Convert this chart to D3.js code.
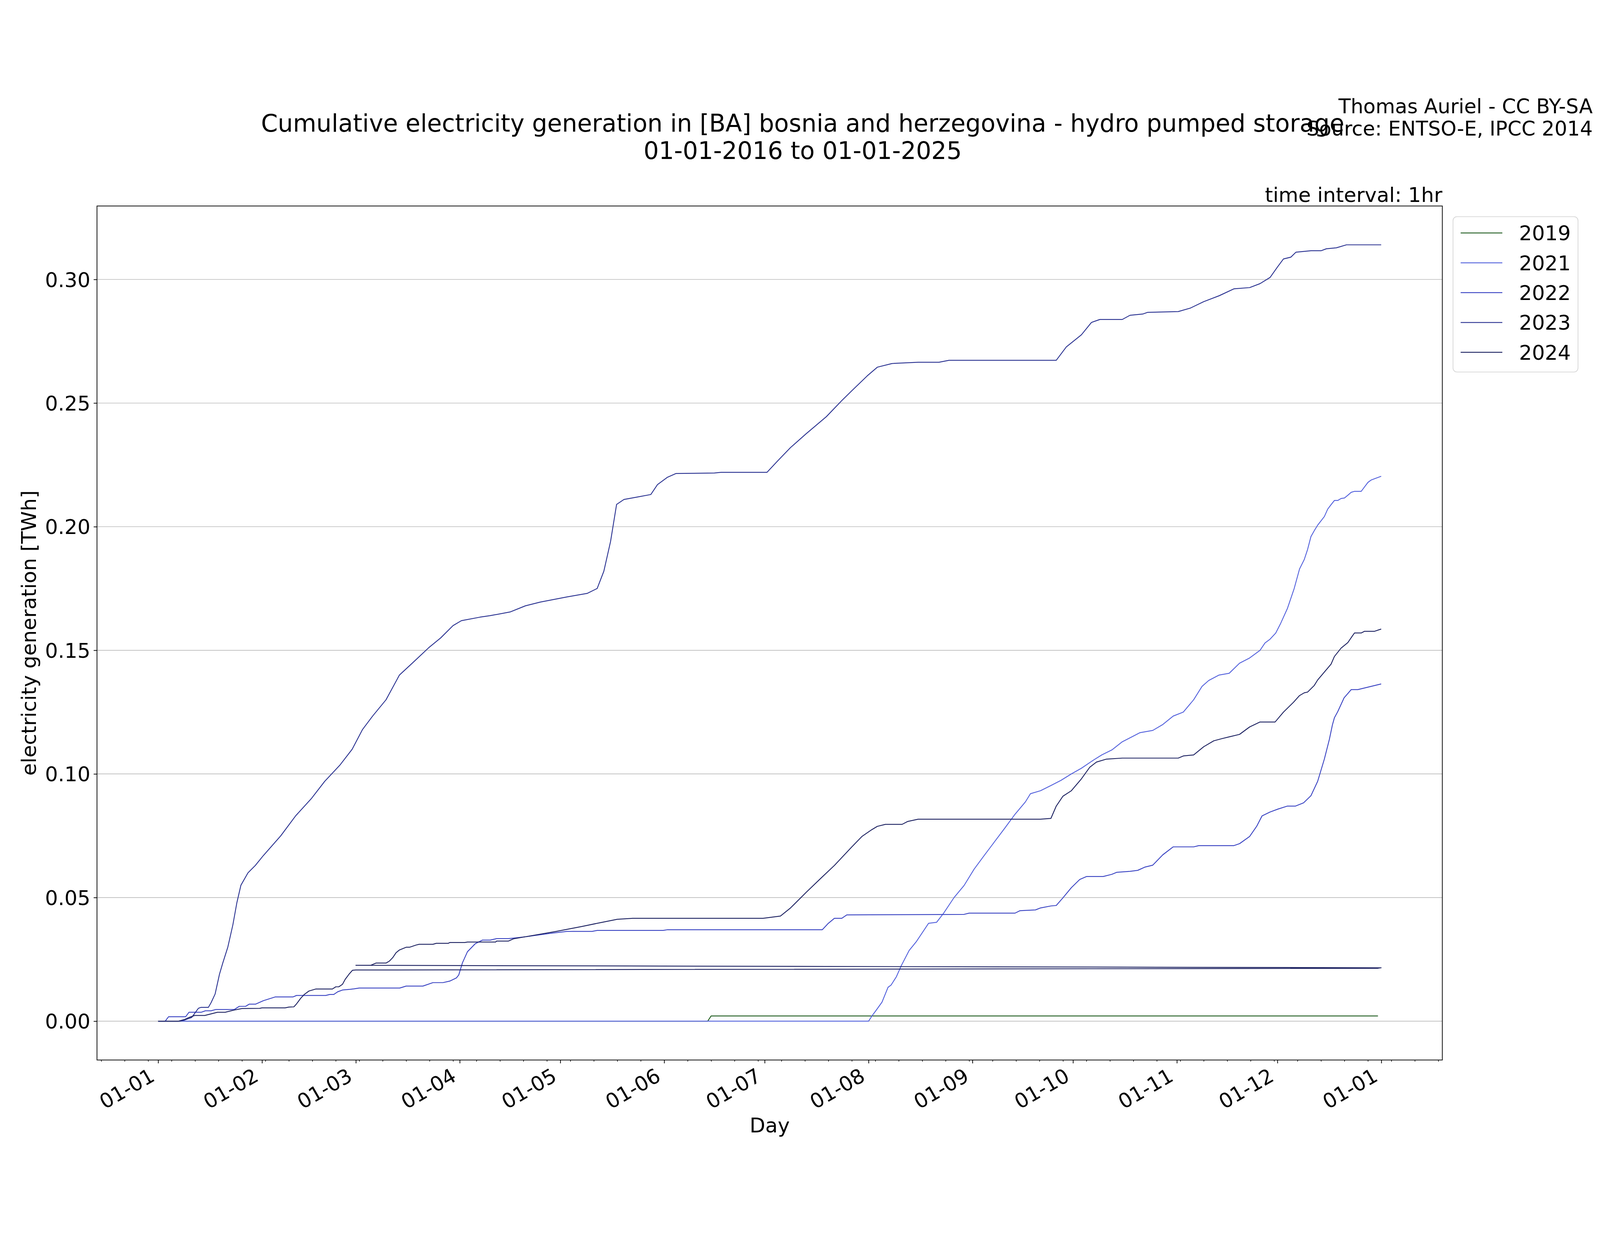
<!DOCTYPE html>
<html>
<head>
<meta charset="utf-8">
<script src="https://cdn.jsdelivr.net/npm/d3@7"></script>
<style>
    html, body { margin: 0; padding: 0; width: 100%; height: 100%; overflow: hidden; background: white; }
    svg { display: block; width: 100vw; height: 100vh; }
    text { font-family: "DejaVu Sans", sans-serif; }
</style>
</head>
<body>
<svg id="chart" viewBox="0 0 4800 3200" preserveAspectRatio="xMidYMid meet"></svg>
<script>

// legend entries (years) and their colours
let years = ["2019", "2021", "2022", "2023", "2024"];
let lineColors = ["#1d5a1d", "#5260dc", "#3842c2", "#283090", "#1b2060"];

// cumulative generation, TWh, as [day of year (0 = 1 Jan), value]
let gen2019 = [[0, 0], [164, 0], [165, 0.0021], [364.0, 0.0021]];

let gen2021 = [[0, 0], [212, 0], [213.1, 0.0023], [214.2, 0.0043], [216, 0.0077], [217.8, 0.0137],
    [218.7, 0.0146], [220.3, 0.018], [221.7, 0.0223], [224.1, 0.0286], [226.2, 0.0321], [229.9, 0.0396],
    [232.3, 0.040], [234.4, 0.0437], [237.5, 0.050], [240.5, 0.0549], [243.5, 0.0615], [246.6, 0.0672],
    [249.6, 0.0726], [252.6, 0.078], [255.7, 0.0837], [258.8, 0.0887], [260.3, 0.092], [263.3, 0.0932],
    [266.4, 0.0953], [269.4, 0.0974], [272.5, 0.100], [275.5, 0.1023], [279.1, 0.1056], [281.6, 0.1077],
    [284.6, 0.1097], [287.7, 0.113], [290.7, 0.1151], [293, 0.1167], [296.8, 0.1176], [299.8, 0.120],
    [302.9, 0.1234], [305.9, 0.125], [309, 0.130], [311.5, 0.1354], [313.5, 0.1378], [316.6, 0.140],
    [319.6, 0.1407], [322.7, 0.1448], [325.7, 0.1469], [328.8, 0.150], [330.3, 0.153], [331.8, 0.1545],
    [333.5, 0.157], [335, 0.161], [337, 0.167], [339, 0.175], [340.6, 0.1829], [342, 0.1867],
    [343, 0.1908], [344, 0.196], [345, 0.1984], [346, 0.2006], [348, 0.2041], [349, 0.2071],
    [350, 0.2089], [351, 0.2106], [352, 0.2106], [353, 0.2114], [354, 0.2116], [355, 0.2127],
    [356, 0.2139], [357, 0.2143], [359, 0.2143], [360, 0.2161], [361, 0.2179], [362, 0.2189],
    [363, 0.2194], [364.96, 0.2204]];

let gen2022 = [[0, 0], [2.1, 0], [3.1, 0.0018], [8.2, 0.0018], [9.2, 0.0036], [12.8, 0.0036],
    [14.1, 0.0042], [15.8, 0.0042], [17.1, 0.0047], [22.7, 0.0047], [24.2, 0.0060], [26.1, 0.0060],
    [27.2, 0.0069], [29.1, 0.0069], [31.4, 0.0083], [34.9, 0.0098], [40.2, 0.0098], [41.3, 0.0104],
    [50, 0.0104], [51.2, 0.0108], [52.4, 0.0108], [53.6, 0.0119], [55, 0.0126], [57.3, 0.0129],
    [58.5, 0.0131], [60, 0.0134], [72.1, 0.0134], [74, 0.0142], [79, 0.0142], [82, 0.0156],
    [85, 0.0156], [87, 0.0162], [89, 0.0175], [89.7, 0.0187], [90.8, 0.0236], [92.3, 0.0281],
    [94.6, 0.0313], [96.8, 0.0328], [99.1, 0.0328], [101, 0.0334], [104.5, 0.0334], [106, 0.0336],
    [110, 0.0342], [117, 0.0355], [122, 0.0363], [129.5, 0.0363], [131, 0.0367], [150.7, 0.0367],
    [152, 0.037], [198.2, 0.037], [200, 0.0396], [201.8, 0.0416], [204, 0.0416], [205.5, 0.0430],
    [240.5, 0.0432], [242, 0.0437], [255.7, 0.0437], [257.2, 0.0447], [261.8, 0.0450], [263.3, 0.0458],
    [266.4, 0.0466], [268, 0.0468], [270, 0.0499], [272.5, 0.054], [275, 0.0573], [277, 0.0585],
    [282, 0.0585], [284.6, 0.0594], [286, 0.0602], [290, 0.0606], [292.3, 0.061], [294.4, 0.0623],
    [296.8, 0.0631], [299.8, 0.0673], [302.9, 0.0705], [309, 0.0705], [310.5, 0.071], [321, 0.071],
    [322.7, 0.0718], [325.7, 0.0747], [327.8, 0.0788], [329.4, 0.083], [331.8, 0.0846], [334.2, 0.0858],
    [337, 0.087], [339.4, 0.087], [341.8, 0.0883], [344, 0.0912], [346, 0.097], [348, 0.106],
    [349.5, 0.114], [350.4, 0.1198], [351, 0.1227], [352, 0.1252], [353.9, 0.1308], [355, 0.1325],
    [356, 0.1341], [358, 0.1341], [361, 0.1351], [364.96, 0.1364]];

let gen2023 = [[0, 0], [6.4, 0], [8, 0.0005], [10, 0.0015], [12, 0.0052], [12.8, 0.0056], [15, 0.0056],
    [15.8, 0.0075], [17, 0.011], [18.3, 0.019], [19.3, 0.0236], [20.8, 0.030], [22.3, 0.039],
    [23.5, 0.048], [24.7, 0.055], [26.8, 0.060], [29, 0.063], [31.4, 0.067], [36.6, 0.075], [41, 0.083],
    [45.7, 0.090], [49.7, 0.097], [54.2, 0.1035], [57.9, 0.110], [61, 0.118], [64, 0.1234], [68, 0.130],
    [72, 0.140], [76, 0.145], [80.7, 0.151], [84.3, 0.155], [88, 0.160], [90.5, 0.162], [96, 0.1634],
    [99, 0.164], [105, 0.1655], [109.6, 0.168], [114, 0.1695], [122, 0.1716], [128, 0.173], [131, 0.175],
    [133, 0.182], [135, 0.194], [136.8, 0.209], [139, 0.211], [143, 0.212], [147, 0.213], [149, 0.217],
    [152, 0.220], [154.5, 0.2215], [166, 0.2217], [168, 0.222], [181.7, 0.222], [184.8, 0.2265],
    [188.7, 0.232], [193.3, 0.2375], [199.4, 0.2445], [204, 0.251], [207, 0.255], [211.6, 0.261],
    [214.6, 0.2645], [219, 0.266], [226.8, 0.2665], [233, 0.2665], [236, 0.2673], [268, 0.2673],
    [271, 0.2727], [275.5, 0.2776], [278.5, 0.2826], [281, 0.2838], [287.7, 0.2838], [290, 0.2855],
    [293.8, 0.286], [295.3, 0.2867], [304.4, 0.287], [308, 0.2884], [312, 0.291], [316.6, 0.2934],
    [321, 0.2962], [325.7, 0.2967], [328.8, 0.2983], [331.8, 0.3008], [334, 0.305], [335.8, 0.3083],
    [338, 0.309], [339.5, 0.311], [344, 0.3116], [347, 0.3116], [348.6, 0.3124], [351.6, 0.3128],
    [354.6, 0.314], [364.96, 0.314]];

// 2024 is a leap year: the 29 Feb hours end up plotted at the end of the year
let gen2024 = [[0, 0], [6, 0], [7.9, 0.0007], [9.4, 0.0016], [10.9, 0.0023], [13.9, 0.0023],
    [17.7, 0.0036], [20, 0.0036], [22.7, 0.0045], [25, 0.0051], [30.3, 0.0052], [31, 0.0054],
    [37.9, 0.0054], [39, 0.0057], [40.5, 0.0058], [41.3, 0.0070], [42.5, 0.0092], [43.6, 0.0108],
    [45, 0.0122], [47, 0.0130], [52, 0.0130], [53, 0.0139], [53.9, 0.0139], [55, 0.0149],
    [55.8, 0.0169], [56.9, 0.0189], [58, 0.0206], [58.96, 0.0207],
    [364.0, 0.0214], [364.96, 0.0216],
    [59, 0.0226], [63.4, 0.0226], [65, 0.0235], [68, 0.0235], [69, 0.0243], [70, 0.0257], [71, 0.0277],
    [72, 0.0288], [74, 0.0299], [75, 0.0299], [77, 0.0308], [77.9, 0.0311], [82, 0.0311], [83, 0.0315],
    [86.6, 0.0315], [87, 0.0318], [91.5, 0.0318], [92.3, 0.0320], [100.7, 0.0320], [101, 0.0324],
    [104.5, 0.0324], [106, 0.0333], [109.8, 0.0342], [118.8, 0.0363], [126.4, 0.0383], [132.5, 0.040],
    [137, 0.0412], [141.6, 0.0416], [180.5, 0.0416], [185.7, 0.0425], [188.7, 0.0458], [193.3, 0.052],
    [197.9, 0.058], [201.8, 0.063], [207, 0.0705], [210, 0.0747], [213, 0.0775], [214.6, 0.0788],
    [217, 0.0796], [222, 0.0796], [223.7, 0.0808], [226.8, 0.0817], [263.3, 0.0817], [266.4, 0.082],
    [268, 0.087], [270, 0.091], [272.5, 0.0932], [275.5, 0.098], [278, 0.1027], [280, 0.1048],
    [283, 0.106], [287.7, 0.1064], [304.4, 0.1064], [306, 0.1073], [309, 0.1077], [312, 0.111],
    [315, 0.1134], [317.5, 0.1143], [319.6, 0.115], [322.7, 0.116], [325.7, 0.119], [328.8, 0.121],
    [333.3, 0.121], [335.8, 0.125], [338.8, 0.129], [340.6, 0.1317], [342, 0.1328], [343, 0.1331],
    [345, 0.1358], [346, 0.138], [350, 0.1444], [351, 0.1475], [353, 0.1509], [355, 0.1531],
    [356, 0.1551], [357, 0.157], [359, 0.157], [360, 0.1577], [363, 0.1577], [364.96, 0.1586]];

let yTicks = [0, 0.05, 0.10, 0.15, 0.20, 0.25, 0.30];

let titleLines = ["Cumulative electricity generation in [BA] bosnia and herzegovina - hydro pumped storage",
    "01-01-2016 to 01-01-2025"];


function makeChart(id) {

    let width = 4800;
    let height = 3200;
    let margins = {top: 343, right: 473, bottom: 295, left: 291};
    let innerWidth = width - margins.left - margins.right;
    let innerHeight = height - margins.top - margins.bottom;

    let series = [gen2019, gen2021, gen2022, gen2023, gen2024];
    let dayMs = 864e5;
    let base = Date.UTC(2015, 0, 1);   // any common year works, 5 Jan 2015 is a Monday

    let chart = d3.select("#" + id);
    chart.append("rect").attr("width", width).attr("height", height).style("fill", "white");

    // matplotlib style 5% padding on both axes
    let allDays = series.flat().map(d => d[0]);
    let allVals = series.flat().map(d => d[1]);
    let dMin = d3.min(allDays), dMax = d3.max(allDays);
    let vMin = d3.min(allVals), vMax = d3.max(allVals);
    let dPad = (dMax - dMin) * 0.05, vPad = (vMax - vMin) * 0.05;

    let xScale = d3.scaleUtc()
        .domain([new Date(base + (dMin - dPad) * dayMs), new Date(base + (dMax + dPad) * dayMs)])
        .range([margins.left, margins.left + innerWidth]);
    let yScale = d3.scaleLinear()
        .domain([vMin - vPad, vMax + vPad])
        .range([margins.top + innerHeight, margins.top]);

    // horizontal grid
    chart.append("g").selectAll("line").data(yTicks).enter().append("line")
        .attr("x1", margins.left).attr("x2", margins.left + innerWidth)
        .attr("y1", d => yScale(d)).attr("y2", d => yScale(d))
        .style("stroke", "#b0b0b0").style("stroke-width", 1.6);

    // lines
    let line = d3.line()
        .x(d => xScale(new Date(base + d[0] * dayMs)))
        .y(d => yScale(d[1]));

    chart.append("g").selectAll("path").data(series).enter().append("path")
        .attr("d", d => line(d))
        .style("fill", "none")
        .style("stroke", (d, i) => lineColors[i])
        .style("stroke-width", 2.6)
        .style("stroke-linejoin", "round");

    // frame
    chart.append("rect")
        .attr("x", margins.left).attr("y", margins.top)
        .attr("width", innerWidth).attr("height", innerHeight)
        .style("fill", "none").style("stroke", "black").style("stroke-width", 2.2);

    // x axis: month majors, weekly minors
    let domain = xScale.domain();
    let months = d3.utcMonth.range(d3.utcMonth.ceil(domain[0]), domain[1]);
    let monthSet = new Set(months.map(d => +d));
    let weeks = d3.utcMonday.range(d3.utcMonday.ceil(domain[0]), domain[1])
        .filter(d => !monthSet.has(+d));

    chart.append("g")
        .attr("transform", `translate(0,${margins.top + innerHeight})`)
        .call(d3.axisBottom(xScale).tickValues(weeks).tickSize(5).tickFormat(""))
        .call(g => g.select(".domain").remove())
        .call(g => g.selectAll("line").style("stroke-width", 1.7));

    let xAxis = chart.append("g")
        .attr("transform", `translate(0,${margins.top + innerHeight})`)
        .call(d3.axisBottom(xScale).tickValues(months).tickSize(10).tickFormat(d3.utcFormat("%d-%m")));
    xAxis.select(".domain").remove();
    xAxis.selectAll("line").style("stroke-width", 2.2);
    xAxis.selectAll("text")
        .attr("x", null).attr("y", null).attr("dy", null)
        .attr("text-anchor", "end")
        .attr("transform", "translate(-7,60) rotate(-30)")
        .style("font-family", "DejaVu Sans")
        .style("font-size", "61px")
        .style("fill", "black");

    // y axis
    let yAxis = chart.append("g")
        .attr("transform", `translate(${margins.left},0)`)
        .call(d3.axisLeft(yScale).tickValues(yTicks).tickSize(10).tickPadding(10).tickFormat(d3.format(".2f")));
    yAxis.select(".domain").remove();
    yAxis.selectAll("line").style("stroke-width", 2.2);
    yAxis.selectAll("text")
        .attr("dy", "0.36em")
        .style("font-family", "DejaVu Sans")
        .style("font-size", "61px")
        .style("fill", "black");

    // axis labels
    chart.append("text")
        .attr("x", margins.left + innerWidth / 2).attr("y", 3122)
        .attr("text-anchor", "middle")
        .style("font-size", "61px")
        .text("Day");

    chart.append("text")
        .attr("transform", `translate(108,${margins.top + innerHeight / 2}) rotate(-90)`)
        .attr("text-anchor", "middle")
        .style("font-size", "61px")
        .text("electricity generation [TWh]");

    // titles
    chart.selectAll(".title").data(titleLines).enter().append("text").attr("class", "title")
        .attr("x", 2408).attr("y", (d, i) => 120 + i * 82)
        .attr("text-anchor", "middle")
        .style("font-size", "72px")
        .text(d => d);

    chart.append("text")
        .attr("x", margins.left + innerWidth).attr("y", 331)
        .attr("text-anchor", "end")
        .style("font-size", "61px")
        .text("time interval: 1hr");

    chart.selectAll(".credit").data(["Thomas Auriel - CC BY-SA", "Source: ENTSO-E, IPCC 2014"])
        .enter().append("text").attr("class", "credit")
        .attr("x", 4778).attr("y", (d, i) => 65 + i * 67)
        .attr("text-anchor", "end")
        .style("font-size", "60px")
        .text(d => d);

    // legend
    let legend = chart.append("g").attr("transform", "translate(4359,375)");
    legend.append("rect")
        .attr("width", 375).attr("height", 466).attr("rx", 12)
        .style("fill", "white").style("fill-opacity", 0.8)
        .style("stroke", "#d6d6d6").style("stroke-width", 2.2);

    let item = legend.selectAll(".item").data(years).enter().append("g").attr("class", "item")
        .attr("transform", (d, i) => `translate(0,${49 + i * 89.5})`);
    item.append("line")
        .attr("x1", 23).attr("x2", 148)
        .style("stroke", (d, i) => lineColors[i])
        .style("stroke-width", 2.6);
    item.append("text")
        .attr("x", 198).attr("y", 22)
        .style("font-size", "61px")
        .text(d => d);
}

makeChart("chart");
</script>
</body>
</html>
